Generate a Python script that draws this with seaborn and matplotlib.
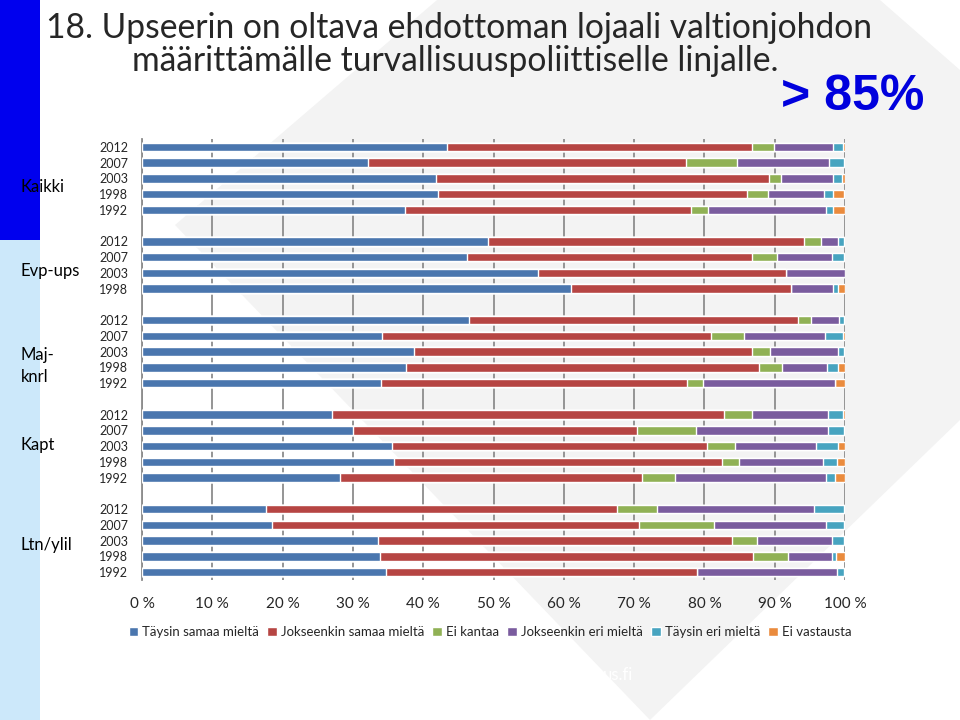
import matplotlib
matplotlib.use("Agg")
import numpy as np
import pandas as pd
import matplotlib.pyplot as plt
import seaborn as sns
from matplotlib.patches import Polygon, Rectangle, Patch

# --- data (luettu kuvasta, %) ---
groups = ["Kaikki", "Evp-ups", "Maj-\nknrl", "Kapt", "Ltn/ylil"]
group_years = [
    ["2012", "2007", "2003", "1998", "1992"],
    ["2012", "2007", "2003", "1998"],
    ["2012", "2007", "2003", "1998", "1992"],
    ["2012", "2007", "2003", "1998", "1992"],
    ["2012", "2007", "2003", "1998", "1992"],
]
series = ["Täysin samaa mieltä", "Jokseenkin samaa mieltä", "Ei kantaa",
          "Jokseenkin eri mieltä", "Täysin eri mieltä", "Ei vastausta"]

taysin_samaa = [43.4, 32.1, 41.8, 42.1, 37.4,
                49.2, 46.2, 56.3, 61.0,
                46.5, 34.1, 38.7, 37.6, 34.0,
                27.0, 30.0, 35.6, 35.8, 28.2,
                17.6, 18.5, 33.6, 33.9, 34.7]
jokseenkin_samaa = [43.4, 45.3, 47.4, 44.0, 40.7,
                    45.0, 40.6, 35.3, 31.3,
                    46.8, 46.8, 48.1, 50.2, 43.5,
                    55.8, 40.4, 44.8, 46.7, 42.9,
                    50.0, 52.2, 50.3, 53.0, 44.2]
ei_kantaa = [3.1, 7.2, 1.7, 2.9, 2.4,
             2.4, 3.5, 0.0, 0.0,
             1.9, 4.7, 2.5, 3.2, 2.3,
             4.0, 8.4, 4.0, 2.4, 4.7,
             5.7, 10.7, 3.6, 5.0, 0.0]
jokseenkin_eri = [8.4, 13.1, 7.4, 8.0, 16.8,
                  2.4, 7.9, 8.4, 6.0,
                  3.9, 11.6, 9.7, 6.4, 18.8,
                  10.8, 18.8, 11.5, 12.0, 21.5,
                  22.3, 15.9, 10.7, 6.3, 20.0]
taysin_eri = [1.4, 2.2, 1.3, 1.3, 1.0,
              0.9, 1.7, 0.0, 0.7,
              0.8, 2.5, 0.9, 1.6, 0.0,
              2.1, 2.3, 3.1, 2.0, 1.3,
              4.3, 2.6, 1.7, 0.5, 1.0]
ei_vastausta = [0.3, 0.1, 0.4, 1.6, 1.7,
                0.1, 0.1, 0.0, 1.0,
                0.1, 0.3, 0.1, 1.0, 1.4,
                0.3, 0.1, 1.0, 1.1, 1.4,
                0.1, 0.1, 0.1, 1.3, 0.1]

colors = ["#4a76ae", "#b64543", "#90b155", "#7a5c9e", "#47a4c0", "#ea8b3d"]

# rivit + tyhjät välit ryhmien välissä
rows = []
pos = 0
for g, yrs in zip(groups, group_years):
    for y in yrs:
        rows.append((g, y, pos))
        pos += 1
    pos += 1
last = pos - 2  # viimeinen rivi

df = pd.DataFrame(rows, columns=["group", "year", "pos"])
vals = [taysin_samaa, jokseenkin_samaa, ei_kantaa, jokseenkin_eri, taysin_eri, ei_vastausta]
for s, v in zip(series, vals):
    df[s] = v
cum = df[series].cumsum(axis=1)

sns.set_style("white")
plt.rcParams["font.family"] = ["Lato", "DejaVu Sans"]

fig = plt.figure(figsize=(9.6, 7.2), dpi=100)
W, H = 960, 720


def fp(pts):
    return [(x / W, 1 - y / H) for x, y in pts]


# tausta: vaalea harmaa kolmio + vasen sininen palkki
fig.add_artist(Polygon(fp([(175, 225), (437, 0), (880, 0), (960, 70), (960, 420), (650, 720)]),
                       closed=True, transform=fig.transFigure, facecolor="#f3f3f3",
                       edgecolor="none", zorder=-10))
fig.add_artist(Rectangle((0, 0), 40 / W, 1 - 240 / H, transform=fig.transFigure,
                         facecolor="#cce8fa", edgecolor="none", zorder=-5))
fig.add_artist(Rectangle((0, 1 - 240 / H), 40 / W, 240 / H, transform=fig.transFigure,
                         facecolor="#0000ee", edgecolor="none", zorder=-5))

ax = fig.add_axes([142 / W, 1 - 580 / H, 703 / W, 441 / H])
ax.set_facecolor("none")

# pinotut palkit: kumulatiivinen summa, piirretään takaperin
for i in range(len(series) - 1, -1, -1):
    tmp = pd.DataFrame({"x": cum[series[i]], "pos": df["pos"]})
    sns.barplot(data=tmp, x="x", y="pos", orient="h", native_scale=True,
                color=colors[i], width=0.55, errorbar=None, saturation=1,
                ax=ax, zorder=3)

ax.set_xlim(0, 100)
ax.set_ylim(last + 0.5, -0.5)
ax.set_xticks(np.arange(0, 101, 10))
ax.set_xticklabels([f"{t} %" for t in range(0, 101, 10)], fontsize=11)
ax.set_yticks(df["pos"])
ax.set_yticklabels(df["year"], fontsize=9)
ax.set_yticks(np.arange(-0.5, last + 1, 1), minor=True)
ax.tick_params(axis="y", which="major", length=0, pad=10)
ax.tick_params(axis="y", which="minor", length=5, color="#8c8c8c", width=1)
ax.tick_params(axis="x", length=0, pad=12)
ax.set_xlabel("")
ax.set_ylabel("")
ax.grid(axis="x", color="#8c8c8c", linewidth=1.3, zorder=0)
ax.set_axisbelow(True)
for sp in ["top", "right", "bottom"]:
    ax.spines[sp].set_visible(False)
ax.spines["left"].set_color("#8c8c8c")
ax.spines["left"].set_linewidth(1.3)

# ryhmien nimet vasemmalla (sijainnit pikseleinä kuten alkuperäisessä)
label_y = [187, 271, 366, 445, 545]
for g, yp in zip(groups, label_y):
    fig.text(21 / W, 1 - yp / H, g, fontsize=12, ha="left", va="center", color="black",
             linespacing=1.5)

handles = [Patch(facecolor=c, label=s) for s, c in zip(series, colors)]
fig.legend(handles=handles, loc="center", bbox_to_anchor=(490 / W, 1 - 632 / H), ncol=6,
           frameon=False, fontsize=9.5, handlelength=0.75, handleheight=0.75,
           handletextpad=0.3, columnspacing=0.6)

fig.text(459 / W, 1 - 28 / H, "18. Upseerin on oltava ehdottoman lojaali valtionjohdon",
         fontsize=24.2, ha="center", va="center")
fig.text(455 / W, 1 - 61 / H, "määrittämälle turvallisuuspoliittiselle linjalle.",
         fontsize=24.2, ha="center", va="center")
fig.text(853 / W, 1 - 97 / H, "> 85%", fontsize=36, fontweight="bold", color="#0000dd",
         ha="center", va="center", family="Liberation Sans")
fig.text(618 / W, 1 - 675 / H, "us.fi", fontsize=12, color="white", ha="center", va="center")

fig.savefig("out.png", dpi=100)
